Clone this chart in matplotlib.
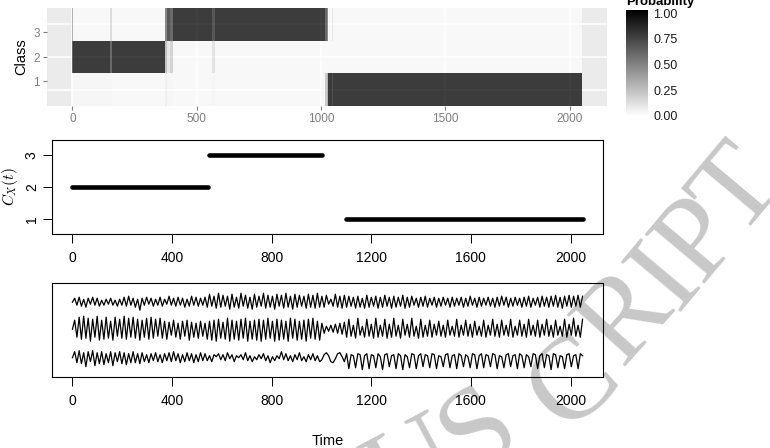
import numpy as np
import matplotlib.pyplot as plt
from matplotlib.colors import LinearSegmentedColormap

plt.rcParams['font.family'] = ['Liberation Sans', 'DejaVu Sans']
plt.rcParams['mathtext.fontset'] = 'cm'

# --- posterior class probabilities (top panel), piecewise over time ---
seg_edges = [0, 4, 152, 158, 372, 382, 392, 404, 562, 572, 1014, 1022, 1030, 1044, 1050, 2049]
prob_c1 = [0.0, 0.02, 0.02, 0.01, 0.05, 0.02, 0.02, 0.01, 0.02, 0.01, 0.25, 0.35, 0.99, 0.90, 0.99]
prob_c2 = [0.8, 0.99, 0.75, 0.99, 0.30, 0.10, 0.20, 0.01, 0.12, 0.01, 0.01, 0.01, 0.01, 0.0, 0.01]
prob_c3 = [0.4, 0.01, 0.15, 0.01, 0.60, 0.85, 0.75, 0.99, 0.85, 0.99, 0.75, 0.60, 0.01, 0.10, 0.01]

# --- true class path (middle panel) ---
class_start = [1, 550, 1100]
class_end = [543, 1003, 2048]
class_value = [2, 3, 1]

# --- three observed channels (bottom panel), successive extremes ---
sig_top = [0, 4, -3, 5, -4, 3, -5, 4, -2, 5, -3, 4, -4, 2, -3, 3, -2, 4, -3, 2, -4, 3, -3, 5, -4, 6, -3, 4, -5, 3,
           -8, 4, -3, 5, -2, 4, -4, 3, -3, 5, -4, 3, -2, 6, -3, 4, -4, 5, -3, 4, -5, 3, -4, 6, -3, 5, -4, 4, -3, 5,
           -5, 8, -4, 6, -6, 9, -5, 7, -4, 6, -7, 8, -5, 5, -6, 9, -4, 7, -6, 5, -7, 8, -5, 6, -4, 9, -6, 7, -5, 6,
           -7, 8, -4, 7, -6, 9, -5, 6, -7, 8, -5, 7, -4, 6, -6, 8, -5, 7, -6, 9, -5,
           6, -5, 7, -2, 3, -4, 8, -5, 6, -6, 7,
           -5, 6, -4, 5, -6, 6, -5, 4, -6, 7, -5, 5, -4, 6, -6, 5, -5, 7, -4, 5, -6, 6, -5, 5, -4, 7, -6, 5, -5, 6,
           -3, 4, -5, 5, -4, 6, -5, 4, -3, 5, -5, 4, -4, 5, -3, 4, -5, 5, -4, 4, -3, 5, -5, 4, -4, 6, -3, 4, -5, 5,
           -4, 4, -3, 5, -4, 4, -5, 5, -4, 6, -3, 5, -5, 4, -4, 5, -3, 4, -5, 5, -4, 6, -5, 4, -3, 5, -5, 6, -4, 5,
           -5, 6, -4, 7, -5, 5, -6, 6, -4, 7, -5, 6, -4, 7, -5, 6]
sig_mid = [0, 9, -8, 12, -10, 13, -9, 11, -12, 10, -8, 13, -11, 9, -10, 12, -9, 8, -11, 12, -7, 10, -9, 13, -10, 11, -8, 12, -9, 10,
           -11, 9, -8, 11, -10, 12, -9, 10, -7, 11, -9, 8, -10, 7, -6, 9, -8, 6, -10, 8, -7, 9, -11, 7, -8, 6, -9, 8, -7, 6,
           -10, 8, -11, 9, -12, 10, -9, 7, -10, 11, -12, 9, -10, 8, -11, 10, -9, 11, -12, 8, -10, 9, -11, 10, -12, 9, -10, 11, -9, 8,
           -12, 10, -11, 9, -10, 8, -12, 11, -9, 10, -11, 8, -10, 9, -12, 10, -9, 11, -10, 8, -11,
           6, -4, 3, -2, 4, -3, 5, -4, 6, -5, 7,
           -8, 10, -7, 4, -9, 11, -6, 3, -8, 10, -7, 5, -9, 11, -8, 4, -7, 10, -9, 5, -8, 11, -7, 4, -9, 10, -6, 5, -8, 11,
           -7, 3, -9, 10, -8, 4, -7, 9, -8, 5, -6, 8, -7, 4, -8, 9, -6, 3, -7, 10, -8, 4, -6, 9, -7, 5, -8, 8, -6, 3,
           -7, 9, -8, 4, -6, 10, -7, 5, -8, 9, -6, 4, -7, 10, -8, 3, -6, 9, -7, 5, -8, 10, -6, 4, -7, 9, -8, 5, -6, 10,
           -7, 4, -8, 9, -6, 3, -7, 10, -8, 5, -6, 11, -7, 4, -8, 10]
sig_bot = [0, 6, -5, 7, -6, 5, -9, 6, -4, 7, -8, 5, -6, 6, -7, 4, -5, 6, -8, 5, -4, 6, -6, 5, -7, 4, -5, 6, -5, 4,
           -6, 5, -4, 3, -5, 4, -3, 5, -4, 3, -5, 4, -3, 5, -4, 6, -3, 4, -5, 3, -4, 5, -3, 4, -5, 3, -4, 5, -3, 4,
           -3, 2, -4, 3, 1, 4, -2, 3, -3, 5, -1, 3, -4, 2, 0, 3, -2, 5, -3, 2, -4, 1, -2, 3, -1, 4, -3, 2, -5, 1,
           -3, 2, -1, 6, -2, 4, -3, 2, -4, 3, -2, 5, -3, 1, -4, 3, -2, 4, -3, 2, -4,
           -2, 3, 5, 2, -4, -5, -1, 4, 5, 1, -4,
           4, -11, 3, 2, -10, 4, 3, -12, 2, 4, -11, 3, 2, -10, 4, 1, -12, 3, 4, -9, 2, 3, -11, 4, 2, -12, 3, 1, -10, 4,
           3, -11, 2, 4, -9, 3, 2, -10, 4, 3, -11, 2, 1, -9, 3, 4, -10, 2, 3, -11, 4, 2, -9, 3, 1, -10, 4, 3, -11, 2,
           4, -10, 3, 2, -9, 4, 3, -11, 2, 1, -10, 3, 4, -9, 2, 3, -11, 4, 2, -10, 3, 1, -9, 4, 3, -11, 2, 4, -10, 3,
           2, -12, 4, 3, -10, 2, 1, -11, 3, 4, -9, 2, 3, -11, 4, 2]

time_ticks = [0, 400, 800, 1200, 1600, 2000]

W, H = 770, 448
fig = plt.figure(figsize=(W / 100, H / 100), dpi=100)


def box(l, t, r, b):
    return [l / W, 1 - b / H, (r - l) / W, (b - t) / H]


# ---------- top: ggplot-style heatmap ----------
ax1 = fig.add_axes(box(47, 8, 607, 106))
ax1.set_facecolor('#EBEBEB')
for s in ax1.spines.values():
    s.set_visible(False)
for x in [0, 500, 1000, 1500, 2000]:
    ax1.axvline(x, color='white', lw=1.1, zorder=0.5)
for y in [0.5, 1.5, 2.5]:
    ax1.axhline(y, color='white', lw=1.1, zorder=0.5)
wb = LinearSegmentedColormap.from_list('wb', ['white', 'black'])
P = np.array([prob_c1, prob_c2, prob_c3])
ax1.pcolormesh(seg_edges, [0, 1, 2, 3], P, cmap=wb, vmin=0, vmax=1, alpha=0.75, zorder=1)
ax1.set_xlim(-102, 2150)
ax1.set_ylim(0, 3)
ax1.set_xticks([0, 500, 1000, 1500, 2000])
ax1.set_yticks([0.765, 1.5, 2.265])
ax1.set_yticklabels(['1', '2', '3'])
ax1.tick_params(colors='#7F7F7F', labelcolor='#7F7F7F', labelsize=8.5, length=3, width=0.8, pad=2)
ax1.set_ylabel('Class', fontsize=10.5, labelpad=4)

# colour bar
cax = fig.add_axes(box(626, 10, 648, 116))
grad = np.linspace(0, 1, 256).reshape(-1, 1)
cax.imshow(grad, cmap=wb, origin='lower', aspect='auto', extent=[0, 1, 0, 1.03])
cax.set_ylim(0, 1.03)
cax.set_xticks([])
cax.yaxis.tick_right()
cax.set_yticks([0, 0.25, 0.5, 0.75, 1.0])
cax.set_yticklabels(['0.00', '0.25', '0.50', '0.75', '1.00'])
cax.tick_params(length=0, pad=4, labelsize=9, labelcolor='#1a1a1a')
for s in cax.spines.values():
    s.set_visible(False)
fig.text(626 / W, 1 - 5 / H, 'Probability', fontsize=9.5, fontweight='bold', va='baseline')

# ---------- middle: class path ----------
ax2 = fig.add_axes(box(52, 140, 603, 234))
ax2.set_facecolor('none')
for s0, s1, c in zip(class_start, class_end, class_value):
    ax2.plot([s0, s1], [c, c], color='black', lw=3.3, solid_capstyle='round')
ax2.set_xlim(-81, 2130)
ax2.set_ylim(0.52, 3.48)
ax2.set_xticks(time_ticks)
ax2.set_yticks([1, 2, 3])
ax2.set_yticklabels(['1', '2', '3'], rotation=90, va='center')
ax2.tick_params(axis='x', length=6.5, width=0.7, labelsize=10, pad=6)
ax2.tick_params(axis='y', length=6.5, width=0.7, labelsize=10, pad=3)
ax2.set_ylabel(r'$C_X(t)$', fontsize=11)
ax2.yaxis.set_label_coords((20 - 52) / 551, 0.5)

# ---------- bottom: observed signals ----------
ax3 = fig.add_axes(box(52, 282.7, 603, 376.7))
ax3.set_facecolor('none')
for sig, base in [(sig_top, 74.5), (sig_mid, 47.5), (sig_bot, 19)]:
    t = np.linspace(1, 2048, len(sig))
    ax3.plot(t, np.array(sig) + base, color='black', lw=0.9)
ax3.set_xlim(-81, 2130)
ax3.set_ylim(0, 94)
ax3.set_yticks([])
ax3.set_xticks(time_ticks)
ax3.tick_params(length=6.5, width=0.7, labelsize=10, pad=6)
ax3.set_xlabel('Time', fontsize=10.5)
ax3.xaxis.set_label_coords(0.5, -(434 - 376.7) / 94)
for ax in (ax2, ax3):
    for s in ax.spines.values():
        s.set_linewidth(0.8)

# watermark (partly visible)
for ch, x, y, rot in [('U', 415, 470, 28), ('S', 480, 432, 35), ('C', 575, 385, 42), ('R', 627, 318, 48),
                      ('I', 667, 278, 50), ('P', 700, 240, 50), ('T', 740, 192, 50)]:
    fig.text(x / W, 1 - y / H, ch, family='Liberation Serif', fontsize=86, color='#C8C8C8',
             rotation=rot, ha='center', va='center', zorder=-1)

fig.savefig('out.png', dpi=100)
